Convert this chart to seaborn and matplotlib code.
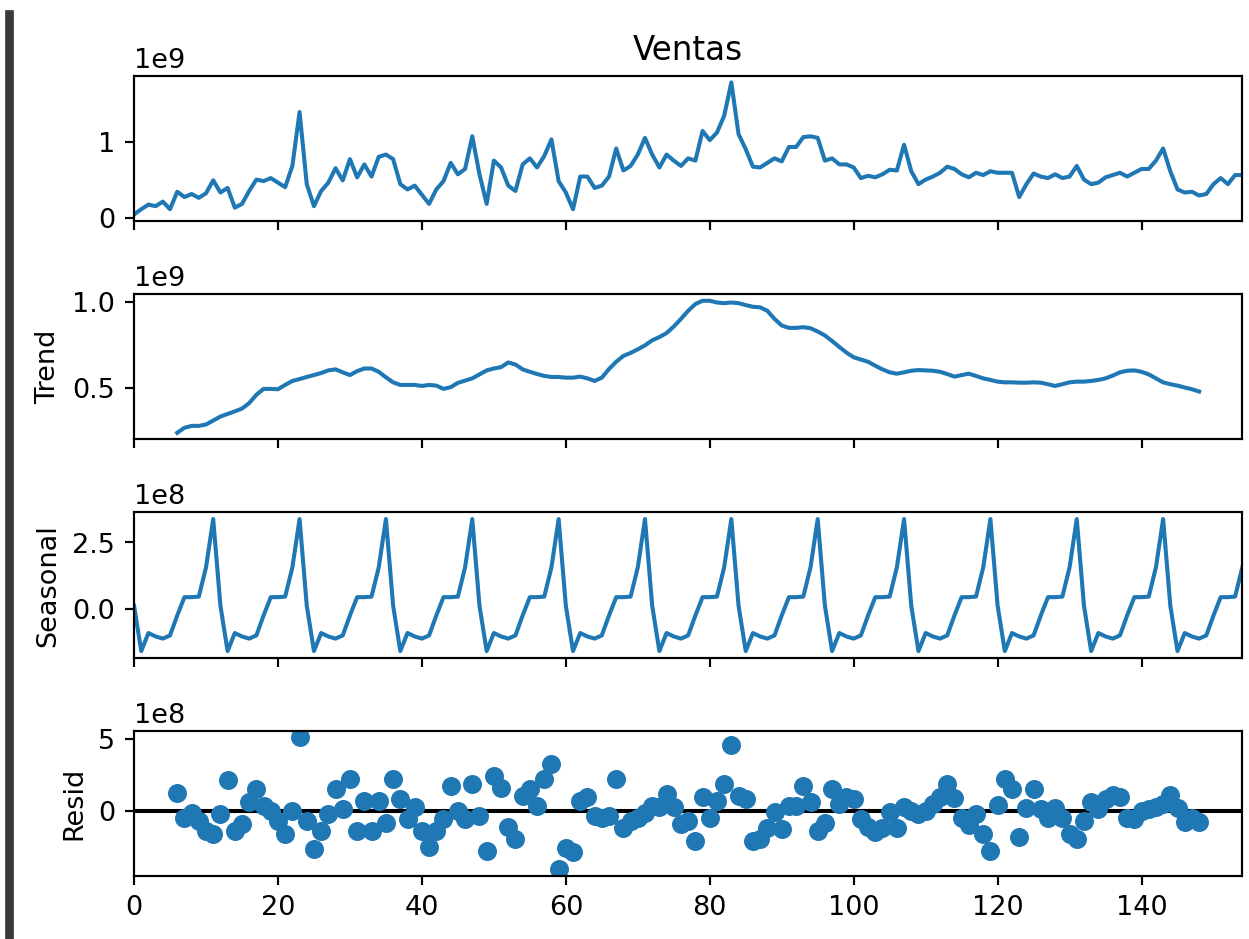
import numpy as np
import pandas as pd
import matplotlib
matplotlib.use("Agg")
import matplotlib.pyplot as plt
import seaborn as sns
from matplotlib.patches import Rectangle

title = "Ventas"
ylabels = ["", "Trend", "Seasonal", "Resid"]

# observed series (units of 1e9), index 0..154
ventas = [
    0.04, 0.11, 0.17, 0.15, 0.21, 0.11, 0.34, 0.27, 0.31, 0.26, 0.32, 0.49,
    0.33, 0.39, 0.13, 0.18, 0.35, 0.50, 0.48, 0.52, 0.46, 0.40, 0.68, 1.39,
    0.44, 0.15, 0.35, 0.46, 0.65, 0.49, 0.77, 0.53, 0.70, 0.54, 0.80, 0.83,
    0.77, 0.44, 0.37, 0.42, 0.30, 0.18, 0.37, 0.48, 0.72, 0.57, 0.64, 1.07,
    0.57, 0.18, 0.75, 0.66, 0.42, 0.35, 0.70, 0.78, 0.66, 0.81, 1.03, 0.48,
    0.33, 0.11, 0.54, 0.54, 0.39, 0.42, 0.54, 0.91, 0.62, 0.68, 0.83, 1.05,
    0.83, 0.66, 0.83, 0.75, 0.68, 0.78, 0.75, 1.14, 1.02, 1.12, 1.34, 1.78,
    1.10, 0.90, 0.67, 0.66, 0.72, 0.78, 0.74, 0.93, 0.93, 1.06, 1.07, 1.05,
    0.75, 0.78, 0.70, 0.70, 0.66, 0.52, 0.55, 0.53, 0.57, 0.63, 0.62, 0.96,
    0.61, 0.44, 0.50, 0.54, 0.59, 0.67, 0.64, 0.57, 0.53, 0.59, 0.56, 0.61,
    0.59, 0.59, 0.59, 0.27, 0.44, 0.58, 0.54, 0.52, 0.57, 0.52, 0.54, 0.68,
    0.50, 0.44, 0.46, 0.53, 0.56, 0.59, 0.54, 0.59, 0.64, 0.64, 0.75, 0.91,
    0.61, 0.37, 0.33, 0.34, 0.29, 0.31, 0.44, 0.52, 0.44, 0.56, 0.56,
]

# trend (units of 1e9), index 6..148
trend_start = 6
trend = [
    0.242, 0.271, 0.282, 0.282, 0.290, 0.313, 0.336, 0.351, 0.366, 0.382,
    0.414, 0.462, 0.496, 0.496, 0.494, 0.519, 0.542, 0.553, 0.565, 0.576,
    0.588, 0.603, 0.609, 0.592, 0.576, 0.599, 0.614, 0.614, 0.595, 0.563,
    0.534, 0.519, 0.519, 0.519, 0.513, 0.519, 0.515, 0.496, 0.506, 0.531,
    0.544, 0.557, 0.580, 0.603, 0.614, 0.622, 0.649, 0.637, 0.609, 0.595,
    0.582, 0.571, 0.565, 0.565, 0.561, 0.561, 0.567, 0.557, 0.542, 0.561,
    0.611, 0.653, 0.687, 0.704, 0.725, 0.748, 0.777, 0.796, 0.819, 0.857,
    0.901, 0.948, 0.987, 1.006, 1.006, 0.996, 0.992, 0.996, 0.992, 0.981,
    0.971, 0.968, 0.948, 0.901, 0.863, 0.849, 0.849, 0.853, 0.847, 0.828,
    0.805, 0.773, 0.739, 0.706, 0.679, 0.666, 0.653, 0.630, 0.609, 0.592,
    0.584, 0.592, 0.601, 0.605, 0.603, 0.601, 0.595, 0.582, 0.567, 0.576,
    0.584, 0.571, 0.557, 0.548, 0.538, 0.534, 0.534, 0.532, 0.532, 0.534,
    0.532, 0.523, 0.513, 0.523, 0.534, 0.538, 0.538, 0.542, 0.548, 0.557,
    0.573, 0.592, 0.601, 0.603, 0.595, 0.580, 0.557, 0.534, 0.523, 0.515,
    0.504, 0.494, 0.481,
]

# seasonal component (units of 1e8), index 0..154
seasonal = [
    0.12, -1.59, -0.91, -1.04, -1.12, -1.00, -0.25, 0.44, 0.44, 0.46, 1.56, 3.38,
    0.12, -1.59, -0.91, -1.04, -1.12, -1.00, -0.25, 0.44, 0.44, 0.46, 1.56, 3.38,
    0.12, -1.59, -0.91, -1.04, -1.12, -1.00, -0.25, 0.44, 0.44, 0.46, 1.56, 3.38,
    0.12, -1.59, -0.91, -1.04, -1.12, -1.00, -0.25, 0.44, 0.44, 0.46, 1.56, 3.38,
    0.12, -1.59, -0.91, -1.04, -1.12, -1.00, -0.25, 0.44, 0.44, 0.46, 1.56, 3.38,
    0.12, -1.59, -0.91, -1.04, -1.12, -1.00, -0.25, 0.44, 0.44, 0.46, 1.56, 3.38,
    0.12, -1.59, -0.91, -1.04, -1.12, -1.00, -0.25, 0.44, 0.44, 0.46, 1.56, 3.38,
    0.12, -1.59, -0.91, -1.04, -1.12, -1.00, -0.25, 0.44, 0.44, 0.46, 1.56, 3.38,
    0.12, -1.59, -0.91, -1.04, -1.12, -1.00, -0.25, 0.44, 0.44, 0.46, 1.56, 3.38,
    0.12, -1.59, -0.91, -1.04, -1.12, -1.00, -0.25, 0.44, 0.44, 0.46, 1.56, 3.38,
    0.12, -1.59, -0.91, -1.04, -1.12, -1.00, -0.25, 0.44, 0.44, 0.46, 1.56, 3.38,
    0.12, -1.59, -0.91, -1.04, -1.12, -1.00, -0.25, 0.44, 0.44, 0.46, 1.56, 3.38,
    0.12, -1.59, -0.91, -1.04, -1.12, -1.00, -0.25, 0.44, 0.44, 0.46, 1.56,
]

# residuals (units of 1e8), index 6..148
resid_start = 6
resid = [
    1.23, -0.47, -0.12, -0.70, -1.42, -1.65, -0.24, 2.17, -1.42, -0.90,
    0.59, 1.53, 0.35, 0.00, -0.70, -1.65, 0.00, 5.14, -0.70, -2.67,
    -1.42, -0.24, 1.53, 0.12, 2.24, -1.42, 0.71, -1.42, 0.71, -0.83,
    2.24, 0.83, -0.59, 0.24, -1.42, -2.55, -1.42, -0.59, 1.77, 0.00,
    -0.59, 1.89, -0.35, -2.83, 2.41, 1.60, -1.10, -2.00, 1.06, 1.53,
    0.35, 2.24, 3.30, -4.10, -2.60, -2.90, 0.71, 0.94, -0.35, -0.47,
    -0.35, 2.24, -1.18, -0.70, -0.47, -0.12, 0.35, 0.24, 1.18, 0.24,
    -0.94, -0.70, -2.12, 0.94, -0.47, 0.71, 1.89, 4.60, 1.06, 0.83,
    -2.12, -2.00, -1.20, -0.10, -1.30, 0.35, 0.35, 1.77, 0.59, -1.42,
    -0.83, 1.53, 0.47, 0.94, 0.83, -0.55, -1.10, -1.45, -1.20, -0.10,
    -1.20, 0.30, 0.00, -0.20, 0.00, 0.50, 1.00, 1.90, 0.90, -0.50,
    -1.00, -0.20, -1.60, -2.80, 0.40, 2.20, 1.50, -1.80, 0.20, 1.50,
    0.10, -0.50, 0.20, -0.50, -1.60, -2.00, -0.70, 0.60, 0.10, 0.80,
    1.10, 1.00, -0.50, -0.60, 0.00, 0.10, 0.30, 0.50, 1.10, 0.20,
    -0.80, -0.50, -0.80,
]

n = len(ventas)
df_obs = pd.DataFrame({"x": np.arange(n), "y": np.array(ventas) * 1e9})
df_trend = pd.DataFrame({"x": np.arange(trend_start, trend_start + len(trend)),
                         "y": np.array(trend) * 1e9})
df_seas = pd.DataFrame({"x": np.arange(len(seasonal)), "y": np.array(seasonal) * 1e8})
df_resid = pd.DataFrame({"x": np.arange(resid_start, resid_start + len(resid)),
                         "y": np.array(resid) * 1e8})

fig, axes = plt.subplots(4, 1, sharex=True, figsize=(6.4, 4.811), dpi=195.2)
fig.subplots_adjust(left=0.1073, right=0.9944, top=0.9191, bottom=0.0671, hspace=0.503)

blue = "#1f77b4"
sns.lineplot(data=df_obs, x="x", y="y", ax=axes[0], color=blue, estimator=None, sort=False)
sns.lineplot(data=df_trend, x="x", y="y", ax=axes[1], color=blue, estimator=None, sort=False)
sns.lineplot(data=df_seas, x="x", y="y", ax=axes[2], color=blue, estimator=None, sort=False)
sns.scatterplot(data=df_resid, x="x", y="y", ax=axes[3], color=blue, s=36,
                edgecolor=blue, linewidth=1.0, zorder=2)
axes[3].axhline(0, color="#000000", linewidth=1.5, zorder=1)

axes[0].set_title(title)
for ax, lab in zip(axes, ylabels):
    ax.set_xlim(0, n - 1)
    ax.set_xlabel("")
    ax.set_ylabel(lab)

fig.add_artist(Rectangle((6 / 1249, 0), 6 / 1249, 1 - 11 / 939,
                         transform=fig.transFigure, color="#3a3a3a", zorder=10))

fig.savefig("out.png", dpi=195.2)
